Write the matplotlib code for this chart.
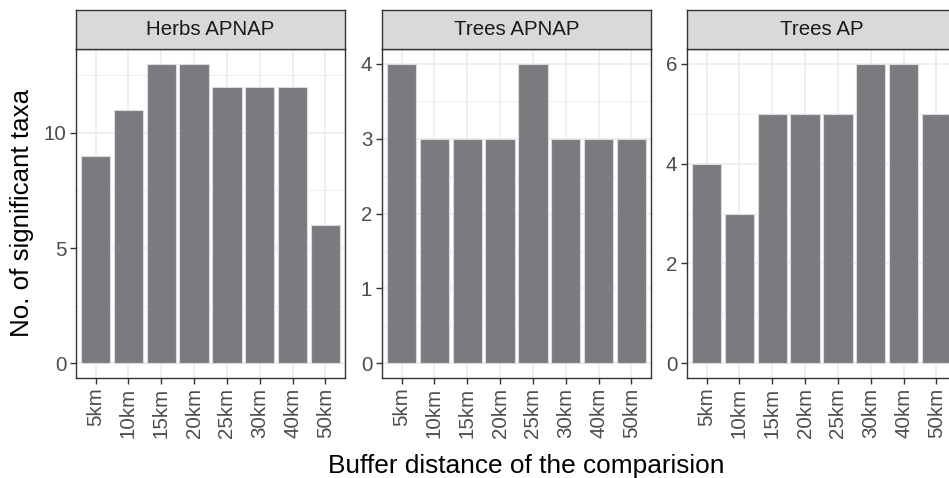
import matplotlib.pyplot as plt
from matplotlib.ticker import MultipleLocator

# Data
buffers = ['5km', '10km', '15km', '20km', '25km', '30km', '40km', '50km']
panels = ['Herbs APNAP', 'Trees APNAP', 'Trees AP']
herbs_apnap = [9, 11, 13, 13, 12, 12, 12, 6]
trees_apnap = [4, 3, 3, 3, 4, 3, 3, 3]
trees_ap = [4, 3, 5, 5, 5, 6, 6, 5]
values = [herbs_apnap, trees_apnap, trees_ap]
y_breaks = [5, 1, 2]

plt.rcParams['font.family'] = ['Liberation Sans', 'DejaVu Sans']

W, H = 949, 478
fig = plt.figure(figsize=(W / 100, H / 100), dpi=100)

lefts = [76, 382, 687]
pw = 269
top, bottom, strip_top = 49, 378, 10

x = list(range(len(buffers)))
for left, name, vals, step in zip(lefts, panels, values, y_breaks):
    ax = fig.add_axes([left / W, 1 - bottom / H, pw / W, (bottom - top) / H])
    ax.bar(x, vals, width=0.9, color='#7a7b7f', edgecolor='#dcdcdc',
           linewidth=0.8, zorder=3)
    vmax = max(vals)
    ax.set_ylim(-0.05 * vmax, 1.05 * vmax)
    ax.set_xlim(-0.6, len(buffers) - 0.4)
    ax.yaxis.set_major_locator(MultipleLocator(step))
    ax.yaxis.set_minor_locator(MultipleLocator(step / 2))
    ax.set_xticks(x)
    ax.set_xticklabels(buffers, rotation=90)
    ax.grid(which='major', color='#ebebeb', linewidth=1.1, zorder=0)
    ax.grid(which='minor', axis='y', color='#ebebeb', linewidth=0.6, zorder=0)
    ax.set_axisbelow(True)
    ax.tick_params(axis='both', which='major', labelsize=14.8,
                   labelcolor='#4d4d4d', color='#333333', length=4, width=1,
                   pad=3)
    ax.tick_params(axis='y', which='minor', length=0)
    for s in ax.spines.values():
        s.set_color('#333333')
        s.set_linewidth(1)

    # facet strip
    sax = fig.add_axes([left / W, 1 - top / H, pw / W, (top - strip_top) / H])
    sax.set_facecolor('#d9d9d9')
    sax.set_xticks([])
    sax.set_yticks([])
    for s in sax.spines.values():
        s.set_color('#333333')
        s.set_linewidth(1)
    sax.text(0.5, 0.5, name, ha='center', va='center', fontsize=14.8,
             color='#1a1a1a', transform=sax.transAxes)

fig.text(22 / W, 1 - 213 / H, 'No. of significant taxa', rotation=90,
         ha='center', va='center', fontsize=18.6, color='black')
fig.text(526 / W, 1 - 466 / H, 'Buffer distance of the comparision',
         ha='center', va='center', fontsize=18.9, color='black')

fig.savefig('out.png', dpi=100)
